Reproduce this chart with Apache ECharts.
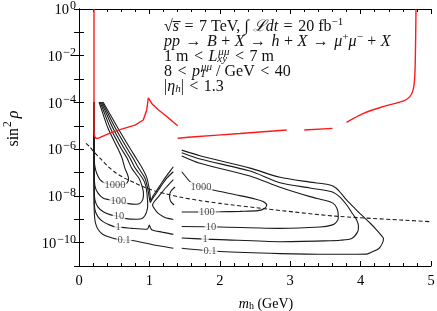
<!DOCTYPE html>
<html><head><meta charset="utf-8">
<script src="https://cdn.jsdelivr.net/npm/echarts@6/dist/echarts.min.js"></script>
<style>html,body{margin:0;padding:0;background:#fff}#c{width:437px;height:311px}</style>
</head><body><div id="c"></div>
<script>
const FF = '"Liberation Serif","DejaVu Serif",serif';

// All points: [m_h (GeV), log10(sin^2 rho)]
const redLeft = [[0.213,0],[0.213,-4.75],[0.213,-5.27],[0.220,-5.44],[0.241,-5.54],[0.26,-5.57],[0.284,-5.52],[0.308,-5.47],[0.44,-5.31],[0.582,-5.16],[0.795,-4.97],[0.913,-4.75],[0.962,-4.32],[0.985,-3.80],[1.033,-4.04],[1.122,-4.30],[1.22,-4.54],[1.32,-4.79],[1.402,-5.0]];
const redMid = [[1.402,-5.535],[1.648,-5.47],[2.287,-5.33],[2.95,-5.18]];
const redRight1 = [[3.20,-5.18],[3.60,-5.11]];
const redRight2 = [[3.80,-4.85],[4.04,-4.465],[4.32,-4.18],[4.61,-3.93],[4.70,-3.75],[4.745,-3.47],[4.766,-3.04],[4.777,-2.18],[4.787,0]];

const dashedCurve = [[0.099,-5.75],[0.156,-5.91],[0.213,-6.12],[0.298,-6.38],[0.416,-6.75],[0.536,-7.04],[0.653,-7.25],[0.795,-7.45],[0.913,-7.61],[1.08,-7.79],[1.22,-7.90],[1.43,-8.05],[1.72,-8.20],[2.0,-8.32],[2.67,-8.56],[3.61,-8.86],[4.56,-9.03],[5.0,-9.105]];

const c1000Left = [[0.284,-3.98],[0.322,-4.32],[0.412,-5.107],[0.55,-5.963],[0.611,-6.378],[0.653,-6.819],[0.703,-7.247],[0.70,-7.35],[0.675,-7.46],[0.639,-7.51],[0.511,-7.53],[0.369,-7.45],[0.298,-7.30],[0.251,-7.03],[0.227,-6.76],[0.217,-6.46],[0.213,-5.82],[0.212,-3.98]];

const c100Left = [[0.298,-3.98],[0.344,-4.32],[0.447,-5.107],[0.597,-5.963],[0.682,-6.378],[0.749,-6.819],[0.852,-7.247],[0.895,-7.58],[0.916,-7.88],[0.909,-8.13],[0.874,-8.30],[0.81,-8.36],[0.678,-8.32],[0.561,-8.24],[0.412,-8.155],[0.345,-8.10],[0.27,-7.88],[0.227,-7.58],[0.216,-7.11],[0.213,-6.04],[0.212,-3.98]];
const c100Nose = [[1.364,-7.62],[1.307,-7.79],[1.286,-8.005],[1.30,-8.22],[1.35,-8.39]];
const c100Right = [[1.459,-6.965],[1.52,-7.19],[1.577,-7.39],[1.719,-7.60],[1.903,-7.75],[2.24,-7.96],[2.50,-8.13],[2.614,-8.24],[2.666,-8.39],[2.635,-8.54],[2.543,-8.63],[2.287,-8.66],[2.003,-8.68],[1.459,-8.69]];

const c10Left = [[0.3125,-3.98],[0.366,-4.32],[0.483,-5.107],[0.639,-5.963],[0.724,-6.378],[0.80,-6.819],[0.902,-7.247],[0.945,-7.53],[0.963,-7.83],[0.973,-8.18],[0.976,-8.43],[0.963,-8.65],[0.9375,-8.84],[0.895,-8.97],[0.824,-9.00],[0.639,-8.96],[0.568,-8.88],[0.44,-8.80],[0.345,-8.68],[0.27,-8.48],[0.227,-8.18],[0.216,-7.75],[0.213,-6.46],[0.212,-3.98]];
const c10Mid = [[1.34,-7.30],[1.236,-7.64],[1.136,-8.005],[1.065,-8.26],[1.044,-8.39],[1.065,-8.52],[1.104,-8.68],[1.151,-8.80],[1.222,-8.925],[1.34,-9.01]];
const c10Right = [[1.459,-6.29],[1.719,-6.605],[2.429,-7.15],[2.855,-7.63],[3.281,-8.03],[3.565,-8.25],[3.636,-8.39],[3.679,-8.68],[3.683,-8.96],[3.65,-9.14],[3.59,-9.25],[3.423,-9.33],[2.855,-9.39],[2.003,-9.33],[1.459,-9.31]];

const c1Upper = [[0.327,-3.98],[0.386,-4.32],[0.518,-5.107],[0.682,-5.963],[0.767,-6.378],[0.848,-6.819],[0.9375,-7.247],[0.98,-7.75],[0.999,-8.09],[1.013,-8.28],[1.037,-8.155],[1.094,-7.90],[1.165,-7.58],[1.25,-7.23],[1.34,-6.965]];
const c1Lower = [[1.34,-9.645],[1.179,-9.55],[1.037,-9.46],[1.016,-9.37],[0.999,-9.25],[0.983,-9.37],[0.962,-9.43],[0.753,-9.39],[0.607,-9.345],[0.554,-9.35],[0.44,-9.25],[0.341,-9.10],[0.27,-8.90],[0.227,-8.60],[0.216,-8.18],[0.213,-6.89],[0.212,-3.98]];
const c1Right = [[1.459,-6.15],[1.719,-6.42],[2.429,-6.935],[2.855,-7.435],[3.281,-7.66],[3.59,-7.82],[3.707,-8.05],[3.803,-8.39],[3.878,-8.73],[3.945,-9.03],[3.97,-9.33],[3.956,-9.55],[3.874,-9.82],[3.707,-9.90],[3.565,-9.92],[2.855,-9.96],[2.003,-9.87],[1.79,-9.85],[1.459,-9.80]];

const c01Upper = [[0.341,-3.98],[0.406,-4.32],[0.554,-5.107],[0.724,-5.963],[0.81,-6.378],[0.899,-6.819],[0.966,-7.247],[1.001,-7.75],[1.013,-8.05],[1.02,-8.20],[1.051,-8.005],[1.108,-7.75],[1.193,-7.36],[1.264,-7.06],[1.34,-6.75]];
const c01Lower = [[1.34,-10.24],[1.151,-10.145],[1.009,-10.06],[0.866,-9.97],[0.724,-9.90],[0.639,-9.89],[0.554,-9.86],[0.44,-9.77],[0.341,-9.65],[0.277,-9.46],[0.234,-9.16],[0.217,-8.69],[0.213,-7.75],[0.212,-3.98]];
const c01Right = [[1.459,-6.04],[1.719,-6.28],[2.429,-6.81],[2.855,-7.205],[3.281,-7.41],[3.565,-7.53],[3.65,-7.66],[3.72,-7.88],[3.803,-8.18],[3.92,-8.54],[4.038,-8.89],[4.134,-9.16],[4.229,-9.46],[4.29,-9.675],[4.325,-9.82],[4.31,-10.02],[4.26,-10.25],[4.16,-10.40],[4.087,-10.49],[3.565,-10.50],[2.855,-10.47],[2.003,-10.38],[1.459,-10.24]];

const contourLabels = [
  ['1000',0.511,-7.53],['100',0.561,-8.24],['10',0.568,-8.88],['1',0.554,-9.35],['0.1',0.639,-9.90],
  ['1000',1.733,-7.63],['100',1.818,-8.70],['10',1.875,-9.33],['1',1.79,-9.85],['0.1',1.86,-10.37]
];
const gridExponents = [-4,-6,-8,-10];
const xTicks = {min:0, max:5, interval:1};
const yRange = {min:1e-11, max:1};

const toVal = arr => arr.map(p => [p[0], Math.pow(10, p[1])]);
function lineSeries(arr, color, width, type, smooth, z){
  return {type:'line', data: toVal(arr), showSymbol:false, symbol:'none', smooth: smooth,
    lineStyle:{color:color, width:width, type:type}, silent:true, z:z, animation:false, clip:true};
}
const black = '#1a1a1a', red = '#ff1a1a';
const series = [];
[c1000Left,c100Left,c100Nose,c100Right,c10Left,c10Mid,c10Right,c1Upper,c1Lower,c1Right,c01Upper,c01Lower,c01Right]
  .forEach(a => series.push(lineSeries(a, black, 1.1, 'solid', 0.25, 3)));
const dash = lineSeries(dashedCurve, black, 1.1, [4,2.5], 0.2, 4);
dash.markLine = {silent:true, symbol:'none', label:{show:false}, animation:false,
  lineStyle:{type:[1,2], color:'#c8c8c8', width:0.8},
  data: gridExponents.map(e => ({yAxis: Math.pow(10, e)}))};
series.push(dash);
series.push(lineSeries(redLeft, red, 1.4, 'solid', false, 5));
[redMid, redRight1, redRight2].forEach(a => series.push(lineSeries(a, red, 1.4, 'solid', 0.3, 5)));
series.push({type:'scatter', symbolSize:2, itemStyle:{color:'rgba(0,0,0,0)'}, z:6, silent:true, animation:false,
  data: contourLabels.map(l => ({name:l[0], value:[l[1], Math.pow(10,l[2])]})),
  label:{show:true, position:'inside', formatter:'{b}', fontFamily:FF, fontSize:10.5, color:'#1a1a1a',
    backgroundColor:'#fff', padding:[0,1]}});

const richBase = {
  b:{fontFamily:FF, fontSize:14.5, lineHeight:18, verticalAlign:'bottom', color:'#000'},
  sup:{fontFamily:FF, fontSize:12, lineHeight:9, verticalAlign:'top', color:'#000', padding:[0,0,0,1]}
};
const richX = {
  i:{fontFamily:FF, fontSize:14, fontStyle:'italic', lineHeight:18, verticalAlign:'bottom', color:'#000'},
  b:{fontFamily:FF, fontSize:14, lineHeight:18, verticalAlign:'bottom', color:'#000'},
  sub:{fontFamily:FF, fontSize:10, lineHeight:9, verticalAlign:'bottom', color:'#000'}
};
const richY = {
  i:{fontFamily:FF, fontSize:16, fontStyle:'italic', lineHeight:20, verticalAlign:'bottom', color:'#000'},
  b:{fontFamily:FF, fontSize:16, lineHeight:20, verticalAlign:'bottom', color:'#000'},
  sup:{fontFamily:FF, fontSize:11.5, lineHeight:10, verticalAlign:'top', color:'#000', padding:[0,3,0,1]}
};
const gs = (o) => Object.assign({fontFamily:FF, fill:'#111'}, o);
const richG = {
  t: gs({fontSize:16, lineHeight:18, verticalAlign:'bottom'}),
  i: gs({fontSize:16, fontStyle:'italic', lineHeight:18, verticalAlign:'bottom'}),
  r: gs({fontSize:16, lineHeight:18, verticalAlign:'bottom', padding:[0,5.5,0,5.5]}),
  o: gs({fontSize:16, lineHeight:18, verticalAlign:'bottom', padding:[0,4.5,0,4.5]}),
  sup: gs({fontSize:11, lineHeight:9, verticalAlign:'top'}),
  isup: gs({fontSize:11, fontStyle:'italic', lineHeight:9, verticalAlign:'top'}),
  isub: gs({fontSize:11, fontStyle:'italic', lineHeight:9, verticalAlign:'bottom'}),
  isubz: gs({fontSize:11, fontStyle:'italic', lineHeight:9, verticalAlign:'bottom', width:1})
};
const annot = [
  '{t|√}{i|s\u0305}{r|=}{t|7 TeV, ∫ }{i|ℒdt}{r|=}{t|20 fb}{sup|−1}',
  '{i|pp}{r|→}{i|B}{o|+}{i|X}{r|→}{i|h}{o|+}{i|X}{r|→}{i|μ}{sup|+}{i|μ}{sup|−}{o|+}{i|X}',
  '{t|1 m}{r|<}{i|L}{isubz|xy}{isup|μμ}{r|<}{t|7 m}',
  '{t|8}{r|<}{i|p}{isubz|T}{isup|μμ}{t| / GeV}{r|<}{t|40}',
  '{t||}{i|η}{isub|h}{t||}{r|<}{t|1.3}'
];
const annotY = [26, 41, 56, 71, 86];

function expLabel(v){
  const e = Math.round(Math.log10(v));
  if (e % 2 !== 0) return '';
  return '{b|10}{sup|' + (e < 0 ? '−' + (-e) : e) + '}';
}
const tickCommon = {inside:true, length:5, lineStyle:{color:'#000', width:1}};
const chart = echarts.init(document.getElementById('c'), null, {renderer:'canvas'});
chart.setOption({
  animation:false,
  backgroundColor:'#fff',
  grid:{left:79, right:6, top:9, bottom:45, containLabel:false, outerBoundsMode:'none'},
  xAxis:[
    {type:'value', min:xTicks.min, max:xTicks.max, interval:xTicks.interval, position:'bottom',
     axisLine:{show:true, lineStyle:{color:'#000', width:1}}, axisTick:tickCommon,
     minorTick:{show:true, splitNumber:5, length:3, lineStyle:{color:'#000', width:1}},
     splitLine:{show:false},
     axisLabel:{fontFamily:FF, fontSize:14.5, color:'#000', margin:8},
     name:'{i|m}{sub|h}{b| (GeV)}', nameLocation:'middle', nameGap:27,
     nameTextStyle:{rich:richX, padding:[0,0,0,22]}},
    {type:'value', min:xTicks.min, max:xTicks.max, interval:xTicks.interval, position:'top',
     axisLine:{show:true, lineStyle:{color:'#000', width:1}}, axisTick:tickCommon,
     minorTick:{show:true, splitNumber:5, length:3, lineStyle:{color:'#000', width:1}},
     splitLine:{show:false}, axisLabel:{show:false}}
  ],
  yAxis:[
    {type:'log', logBase:10, min:yRange.min, max:yRange.max, interval:1, position:'left',
     axisLine:{show:true, lineStyle:{color:'#000', width:1}}, axisTick:tickCommon,
     splitLine:{show:false},
     axisLabel:{formatter:expLabel, rich:richBase, margin:3, showMinLabel:true, showMaxLabel:true},
     name:'{b|sin}{sup|2}{i|ρ}', nameLocation:'middle', nameGap:57,
     nameTextStyle:{rich:richY, padding:[0,0,0,18]}},
    {type:'log', logBase:10, min:yRange.min, max:yRange.max, interval:1, position:'right',
     axisLine:{show:true, lineStyle:{color:'#000', width:1}}, axisTick:tickCommon,
     splitLine:{show:false}, axisLabel:{show:false}}
  ],
  graphic: annot.map((t, k) => ({type:'text', x:164, y:annotY[k], z:10,
    style:{text:t, rich:richG, fontFamily:FF, fontSize:16, fill:'#111', verticalAlign:'middle'}})),
  series: series
});
</script></body></html>
